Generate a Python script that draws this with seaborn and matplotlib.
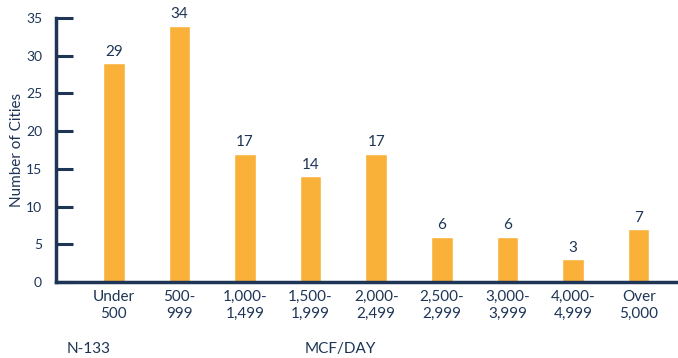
import matplotlib
matplotlib.use("Agg")
import matplotlib.pyplot as plt
import seaborn as sns
import pandas as pd

categories = ["Under\n500", "500-\n999", "1,000-\n1,499", "1,500-\n1,999", "2,000-\n2,499",
              "2,500-\n2,999", "3,000-\n3,999", "4,000-\n4,999", "Over\n5,000"]
cities = [29, 34, 17, 14, 17, 6, 6, 3, 7]
yticks = [0, 5, 10, 15, 20, 25, 30, 35]

navy = "#1E3556"
orange = "#F9B13A"

sns.set_theme(style="white")
plt.rcParams['font.family'] = ['Lato', 'DejaVu Sans']

df = pd.DataFrame({"cat": categories, "val": cities})

fig = plt.figure(figsize=(6.78, 3.58), dpi=100)
ax = fig.add_axes([56/678, 76/358, 1 - 56/678, 264/358])
sns.barplot(data=df, x="cat", y="val", color=orange, width=0.33, ax=ax, saturation=1)

for i, v in enumerate(cities):
    ax.text(i, v + 0.6, str(v), ha="center", va="bottom", color=navy, fontsize=11)

ax.set_ylim(0, 35)
ax.set_xlim(-0.88, 8.6)
ax.set_yticks(yticks)
ax.set_yticklabels([str(t) for t in yticks], color=navy, fontsize=10)
ax.tick_params(axis="y", left=True, direction="in", length=12, width=2.2, color=navy, pad=10)
ax.tick_params(axis="x", bottom=False, length=0, pad=6, labelsize=11, labelcolor=navy)
ax.set_xlabel("")
ax.set_ylabel("Number of Cities", color=navy, fontsize=11)
ax.yaxis.set_label_coords(-0.052, 0.5)

for s in ["top", "right"]:
    ax.spines[s].set_visible(False)
for s in ["left", "bottom"]:
    ax.spines[s].set_color(navy)
    ax.spines[s].set_linewidth(2.5)

fig.text(67/678, 1 - 349/358, "N-133", color=navy, fontsize=11, va="center", ha="left")
fig.text(340/678, 1 - 349/358, "MCF/DAY", color=navy, fontsize=11, va="center", ha="center")

fig.savefig("out.png", dpi=100)
